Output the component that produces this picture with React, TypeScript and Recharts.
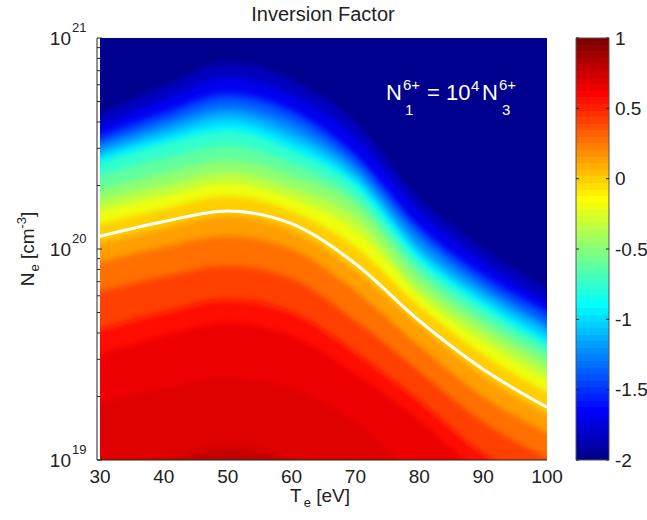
import React from 'react'
import { ComposedChart, BarChart, Area, Line, Bar, XAxis, YAxis } from 'recharts'

// electron temperature columns (eV)
const te = [30, 40, 50, 60, 70, 80, 90, 100]

const levels = [-1.9, -1.75, -1.6, -1.45, -1.3, -1.15, -1.0, -0.85, -0.7, -0.55, -0.4, -0.25, -0.1, 0.05, 0.2, 0.35, 0.5, 0.6, 0.675, 0.75]

// log10(Ne) of each level contour, one row per level, one value per te column
const contourLogNe = [
  [20.64, 20.77, 20.88, 20.8, 20.6, 20.24, 20.0, 19.81],
  [20.58, 20.71, 20.81, 20.73, 20.53, 20.18, 19.94, 19.75],
  [20.54, 20.65, 20.74, 20.66, 20.45, 20.11, 19.88, 19.71],
  [20.51, 20.62, 20.71, 20.63, 20.42, 20.08, 19.85, 19.68],
  [20.49, 20.59, 20.67, 20.59, 20.39, 20.05, 19.82, 19.64],
  [20.46, 20.56, 20.64, 20.55, 20.36, 20.01, 19.79, 19.62],
  [20.44, 20.53, 20.6, 20.51, 20.33, 19.98, 19.76, 19.58],
  [20.41, 20.5, 20.56, 20.47, 20.3, 19.95, 19.73, 19.55],
  [20.35, 20.43, 20.49, 20.41, 20.25, 19.91, 19.69, 19.52],
  [20.28, 20.36, 20.42, 20.35, 20.21, 19.87, 19.65, 19.48],
  [20.23, 20.3, 20.36, 20.29, 20.15, 19.82, 19.61, 19.43],
  [20.18, 20.25, 20.31, 20.24, 20.09, 19.78, 19.56, 19.38],
  [20.12, 20.19, 20.25, 20.18, 20.01, 19.73, 19.5, 19.32],
  [20.03, 20.1, 20.16, 20.09, 19.9, 19.64, 19.4, 19.22],
  [19.94, 20.01, 20.06, 20.0, 19.8, 19.54, 19.3, 19.13],
  [19.8, 19.87, 19.92, 19.86, 19.66, 19.42, 19.18, 19.01],
  [19.62, 19.7, 19.76, 19.7, 19.51, 19.28, 19.03, 18.86],
  [19.5, 19.59, 19.65, 19.59, 19.41, 19.19, 18.93, 18.76],
  [19.27, 19.34, 19.39, 19.34, 19.18, 18.93, 18.72, 18.53],
  [18.95, 19.0, 19.05, 19.0, 18.86, 18.62, 18.43, 18.24],
]

// the white zero contour
const zeroContour = [20.06, 20.13, 20.18, 20.12, 19.93, 19.66, 19.43, 19.25]

const teTicks = [30, 40, 50, 60, 70, 80, 90, 100]
const decades = [19, 20, 21]
const cbTicks = [-2, -1.5, -1, -0.5, 0, 0.5, 1]

const FONT = '"Liberation Sans", Arial, Helvetica, sans-serif'
const INK = '#222'

// matlab jet(64)
const u = (k: number) => (k < 1 || k > 47 ? 0 : k <= 16 ? k / 16 : k <= 31 ? 1 : (48 - k) / 16)
const jet64 = (i: number) => {
  const k = i + 1
  const c = (x: number) => Math.round(255 * x)
  return `rgb(${c(u(k - 24))},${c(u(k - 8))},${c(u(k + 8))})`
}
const jetVal = (v: number) => jet64(Math.max(0, Math.min(63, Math.floor(((v + 2) / 3) * 64))))

const bandColor = (j: number) => {
  const lo = levels[j]
  const hi = j + 1 < levels.length ? levels[j + 1] : lo + 0.1
  return jetVal((lo + hi) / 2)
}

const rows = te.map((t, i) => {
  const row: Record<string, number> = { te: t, zero: zeroContour[i] }
  contourLogNe.forEach((c, j) => {
    row['c' + j] = c[i]
  })
  return row
})

const yTicks: number[] = []
decades.forEach(n => {
  yTicks.push(n)
  if (n < 21) for (let k = 2; k <= 9; k++) yTicks.push(n + Math.log10(k))
})

const cbData = [{ name: 'cb', range: [-2, 1] }]

const YTick = (props: any) => {
  const { x, y, payload } = props
  const v = payload.value
  const major = Math.abs(v - Math.round(v)) < 1e-6
  return (
    <g>
      <line x1={x} x2={x + (major ? 5 : 3)} y1={y} y2={y} stroke={INK} strokeWidth={1} />
      {major && (
        <>
          <text x={x - 26} y={y + 7} textAnchor="end" fontSize={19} fontFamily={FONT} fill={INK}>
            10
          </text>
          <text x={x - 25} y={y - 6} textAnchor="start" fontSize={13} fontFamily={FONT} fill={INK}>
            {Math.round(v)}
          </text>
        </>
      )}
    </g>
  )
}

const XTick = (props: any) => {
  const { x, y, payload } = props
  return (
    <text x={x} y={y + 23} textAnchor="middle" fontSize={19} fontFamily={FONT} fill={INK}>
      {payload.value}
    </text>
  )
}

const CbTick = (props: any) => {
  const { x, y, payload } = props
  return (
    <g>
      <line x1={x - 33} x2={x - 30} y1={y} y2={y} stroke={INK} />
      <line x1={x - 3} x2={x} y1={y} y2={y} stroke={INK} />
      <text x={x + 6} y={y + 6.5} textAnchor="start" fontSize={19} fontFamily={FONT} fill={INK}>
        {payload.value}
      </text>
    </g>
  )
}

const gradStops: React.ReactNode[] = []
for (let k = 0; k < 64; k++) {
  const col = jet64(63 - k)
  gradStops.push(<stop key={'a' + k} offset={k / 64} stopColor={col} />)
  gradStops.push(<stop key={'b' + k} offset={(k + 1) / 64} stopColor={col} />)
}

export default function App() {
  return (
    <div style={{ position: 'absolute', left: 0, top: 0, width: 647, height: 520, background: '#fff' }}>
      <div style={{ position: 'absolute', left: 0, top: 0 }}>
        <ComposedChart width={647} height={520} data={rows} margin={{ top: 38, right: 100, bottom: 30, left: 37 }}>
          <defs>
            <filter id="vblur" x="0" y="-10%" width="100%" height="120%">
              <feGaussianBlur stdDeviation="0 3" />
            </filter>
          </defs>
          <XAxis
            dataKey="te"
            type="number"
            domain={[30, 100]}
            ticks={teTicks}
            allowDataOverflow
            padding={{ left: 3, right: 0 }}
            height={30}
            tickSize={0}
            tickMargin={0}
            tickLine={false}
            interval={0}
            axisLine={{ stroke: INK }}
            tick={<XTick />}
          />
          <YAxis
            type="number"
            domain={[19, 21]}
            ticks={yTicks}
            allowDataOverflow
            width={60}
            tickSize={0}
            tickMargin={0}
            tickLine={false}
            interval={0}
            axisLine={{ stroke: INK }}
            tick={<YTick />}
          />
          <Area
            dataKey={() => 21.5}
            baseValue={18}
            type="linear"
            stroke="none"
            fill={jetVal(-2)}
            fillOpacity={1}
            isAnimationActive={false}
            activeDot={false}
          />
          {levels.map((lv, j) => (
            <Area
              key={lv}
              dataKey={'c' + j}
              baseValue={18}
              type="monotone"
              stroke="none"
              fill={bandColor(j)}
              fillOpacity={1}
              filter="url(#vblur)"
              isAnimationActive={false}
              activeDot={false}
            />
          ))}
          <Line
            dataKey="zero"
            type="monotone"
            stroke="#fff"
            strokeWidth={3}
            dot={false}
            activeDot={false}
            isAnimationActive={false}
          />
        </ComposedChart>
      </div>

      <div style={{ position: 'absolute', left: 547, top: 0 }}>
        <BarChart width={100} height={520} data={cbData} margin={{ top: 38, right: 0, bottom: 60, left: 29 }} barCategoryGap={0}>
          <defs>
            <linearGradient id="jetbar" x1="0" y1="0" x2="0" y2="1">
              {gradStops}
            </linearGradient>
          </defs>
          <XAxis dataKey="name" hide />
          <YAxis
            orientation="right"
            type="number"
            domain={[-2, 1]}
            ticks={cbTicks}
            width={38}
            tickSize={0}
            tickMargin={0}
            tickLine={false}
            axisLine={false}
            interval={0}
            tick={<CbTick />}
          />
          <Bar dataKey="range" fill="url(#jetbar)" stroke="#555" strokeWidth={1} isAnimationActive={false} />
        </BarChart>
      </div>

      <svg width={647} height={520} style={{ position: 'absolute', left: 0, top: 0, pointerEvents: 'none' }}>
        <text x={323} y={21} textAnchor="middle" fontSize={20} fontFamily={FONT} fill={INK}>
          Inversion Factor
        </text>
        <text x={320} y={502} textAnchor="middle" fontSize={19} fontFamily={FONT} fill={INK}>
          T<tspan dx={2} dy={5} fontSize={13}>e</tspan>
          <tspan dy={-5}> [eV]</tspan>
        </text>
        <text transform="translate(34,249) rotate(-90)" textAnchor="middle" fontSize={19} fontFamily={FONT} fill={INK}>
          N<tspan dx={1} dy={5} fontSize={13}>e</tspan>
          <tspan dy={-5}> [cm</tspan>
          <tspan dy={-8} fontSize={13}>-3</tspan>
          <tspan dy={8}>]</tspan>
        </text>
        <g fontFamily={FONT} fill="#fff">
          <text x={386} y={100} fontSize={22}>N</text>
          <text x={403} y={90} fontSize={15}>6+</text>
          <text x={405} y={115} fontSize={15}>1</text>
          <text x={427} y={100} fontSize={22}>= 10</text>
          <text x={471} y={91} fontSize={15}>4</text>
          <text x={482} y={100} fontSize={22}>N</text>
          <text x={499} y={90} fontSize={15}>6+</text>
          <text x={502} y={115} fontSize={15}>3</text>
        </g>
      </svg>
    </div>
  )
}
